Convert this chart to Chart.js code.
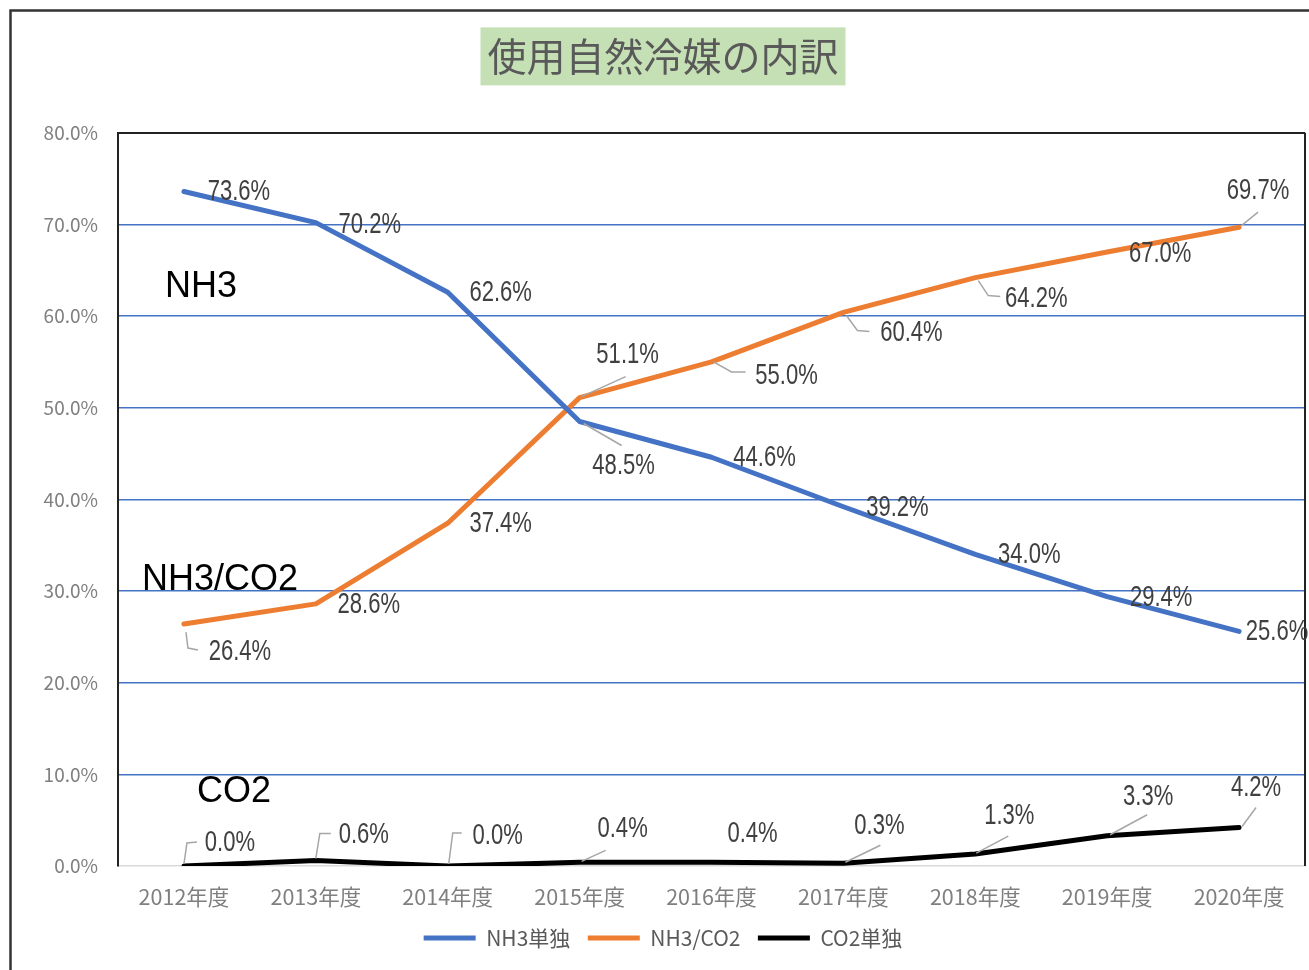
<!DOCTYPE html>
<html>
<head>
<meta charset="utf-8">
<script src="https://cdn.jsdelivr.net/npm/chart.js@4.4.1/dist/chart.umd.min.js"></script>
<style>
  html, body { margin: 0; padding: 0; background: #fff; }
</style>
</head>
<body>
<canvas id="myChart" width="1309" height="970"></canvas>
<script>
// data
const years = ["2012年度", "2013年度", "2014年度", "2015年度", "2016年度", "2017年度", "2018年度", "2019年度", "2020年度"];
const nh3Only = [73.6, 70.2, 62.6, 48.5, 44.6, 39.2, 34.0, 29.4, 25.6];
const nh3Co2 = [26.4, 28.6, 37.4, 51.1, 55.0, 60.4, 64.2, 67.0, 69.7];
const co2Only = [0.0, 0.6, 0.0, 0.4, 0.4, 0.3, 1.3, 3.3, 4.2];
const yTicks = [0, 10, 20, 30, 40, 50, 60, 70, 80];

const titleText = "使用自然冷媒の内訳";
const jpFont = "'Noto Sans CJK JP', 'Noto Sans', sans-serif";

// where each value label sits, relative to its point (text centre), and its leader line
const labelOffsets = [
    [[55, 0], [54, 1], [53, 0], [44, 44], [53, 0], [54, 0], [54, 0], [54, 0], [38, 0]],
    [[56, 27], [53, 0], [53, 0], [48, -44], [75, 13], [68, 20], [61, 20], [53, 1], [19, -37]],
    [[46, -24], [48, -27], [50, -31], [43, -34], [41, -29], [36, -38], [34, -39], [41, -40], [17, -41]]
];
const leaders = [
    [null, null, null, [[4, 2], [42, 24]], null, null, null, null, null],
    [[[2, 8], [4, 24], [14, 26]], null, null, [[2, -1], [46, -21]], [[2, 0], [20, 10], [34, 10]],
        [[3, 3], [14, 18], [26, 19]], [[3, 3], [13, 18], [25, 19]], null, [[3, -2], [19, -15]]],
    [[[0, -2], [3, -23], [13, -24]], [[0, -2], [4, -27], [15, -27]], [[1, -2], [5, -33], [14, -33]],
        [[2, -1], [26, -12]], null, [[2, -1], [37, -18]], [[1, -1], [33, -18]], [[3, -1], [40, -21]], [[3, -1], [17, -20]]]
];
// series names written inside the plot
const seriesNotes = [
    { text: "NH3", dx: 47, yVal: 63.2 },
    { text: "NH3/CO2", dx: 24, yVal: 31.2 },
    { text: "CO2", dx: 79, yVal: 8.1 }
];

const extras = {
    id: 'extras',
    beforeDraw(chart) {
        const ctx = chart.ctx;
        ctx.save();
        ctx.fillStyle = '#fff';
        ctx.fillRect(0, 0, chart.width, chart.height);
        // outer frame (only left and top are inside the picture)
        ctx.strokeStyle = '#333';
        ctx.lineWidth = 2.5;
        ctx.strokeRect(10.5, 10.5, chart.width + 40, chart.height + 40);
        // green box behind the title
        const t = chart.titleBlock;
        ctx.font = `39px ${jpFont}`;
        const w = ctx.measureText(titleText).width;
        const cx = (t.left + t.right) / 2;
        const cy = t.top + 21 + 39 * 1.2 / 2;
        ctx.fillStyle = '#c5e0b4';
        ctx.fillRect(cx - w / 2 - 7, cy - 29, w + 14, 58);
        ctx.restore();
    },
    beforeDatasetsDraw(chart) {
        const { ctx, chartArea } = chart;
        ctx.save();
        ctx.strokeStyle = '#222';
        ctx.lineWidth = 2;
        ctx.beginPath();
        ctx.moveTo(chartArea.right, chartArea.top);
        ctx.lineTo(chartArea.right, chartArea.bottom);
        ctx.stroke();
        ctx.restore();
    },
    afterDatasetsDraw(chart) {
        const { ctx, chartArea } = chart;
        const yScale = chart.scales.y;
        ctx.save();
        chart.data.datasets.forEach((ds, di) => {
            const meta = chart.getDatasetMeta(di);
            meta.data.forEach((pt, i) => {
                const lead = leaders[di][i];
                if (lead) {
                    ctx.strokeStyle = '#a6a6a6';
                    ctx.lineWidth = 1.5;
                    ctx.beginPath();
                    lead.forEach(([lx, ly], k) => {
                        if (k === 0) ctx.moveTo(pt.x + lx, pt.y + ly);
                        else ctx.lineTo(pt.x + lx, pt.y + ly);
                    });
                    ctx.stroke();
                }
            });
        });
        chart.data.datasets.forEach((ds, di) => {
            const meta = chart.getDatasetMeta(di);
            meta.data.forEach((pt, i) => {
                const [dx, dy] = labelOffsets[di][i];
                ctx.save();
                ctx.translate(pt.x + dx, pt.y + dy);
                ctx.scale(0.76, 1);
                ctx.font = "29px 'Liberation Sans', Arial, sans-serif";
                ctx.fillStyle = '#404040';
                ctx.textAlign = 'center';
                ctx.textBaseline = 'middle';
                ctx.fillText(ds.data[i].toFixed(1) + '%', 0, 1);
                ctx.restore();
            });
        });
        ctx.font = "36px 'Liberation Sans', Arial, sans-serif";
        ctx.fillStyle = '#000';
        ctx.textAlign = 'left';
        ctx.textBaseline = 'middle';
        seriesNotes.forEach(n => {
            ctx.fillText(n.text, chartArea.left + n.dx, yScale.getPixelForValue(n.yVal));
        });
        ctx.restore();
    }
};

const ctx = document.getElementById('myChart').getContext('2d');
new Chart(ctx, {
    type: 'line',
    data: {
        labels: years,
        datasets: [
            { label: 'NH3単独', data: nh3Only, borderColor: '#4472c4', backgroundColor: '#4472c4' },
            { label: 'NH3/CO2', data: nh3Co2, borderColor: '#ed7d31', backgroundColor: '#ed7d31' },
            { label: 'CO2単独', data: co2Only, borderColor: '#000000', backgroundColor: '#000000' }
        ]
    },
    options: {
        responsive: false,
        animation: false,
        devicePixelRatio: 1,
        layout: { padding: { left: 21, top: 12, right: 4, bottom: 11.5 } },
        elements: {
            line: { borderWidth: 5, tension: 0, borderJoinStyle: 'round', borderCapStyle: 'round' },
            point: { radius: 0, hoverRadius: 0 }
        },
        scales: {
            x: {
                offset: true,
                grid: { display: false, drawTicks: false },
                border: { color: '#d9d9d9', width: 1.5 },
                ticks: { color: '#7f7f7f', font: { family: jpFont, size: 21.5 }, padding: 18, maxRotation: 0 },
                afterFit(scale) { scale.height = 44; }
            },
            y: {
                min: 0,
                max: 80,
                afterBuildTicks(scale) { scale.ticks = yTicks.map(v => ({ value: v })); },
                grid: {
                    drawTicks: false,
                    color: c => c.tick.value === 80 ? '#222' : (c.tick.value === 0 ? 'rgba(0,0,0,0)' : '#4472c4'),
                    lineWidth: c => c.tick.value === 80 ? 2 : 1.5
                },
                border: { color: '#222', width: 2 },
                ticks: {
                    color: '#808080',
                    font: { family: jpFont, size: 19 },
                    padding: 20,
                    callback: v => v.toFixed(1) + '%'
                },
                afterFit(scale) { scale.width = 97; }
            }
        },
        plugins: {
            title: {
                display: true,
                text: titleText,
                color: '#595959',
                font: { family: jpFont, size: 39, weight: 'normal' },
                padding: { top: 21, bottom: 53 }
            },
            legend: {
                position: 'bottom',
                labels: {
                    boxWidth: 52,
                    boxHeight: 5,
                    padding: 17.5,
                    color: '#595959',
                    font: { family: jpFont, size: 21 },
                    generateLabels(chart) {
                        return chart.data.datasets.map((ds, i) => ({
                            text: ds.label,
                            fillStyle: ds.borderColor,
                            strokeStyle: ds.borderColor,
                            lineWidth: 0,
                            hidden: false,
                            datasetIndex: i,
                            fontColor: '#595959'
                        }));
                    }
                }
            },
            tooltip: { enabled: false }
        }
    },
    plugins: [extras]
});
</script>
</body>
</html>
